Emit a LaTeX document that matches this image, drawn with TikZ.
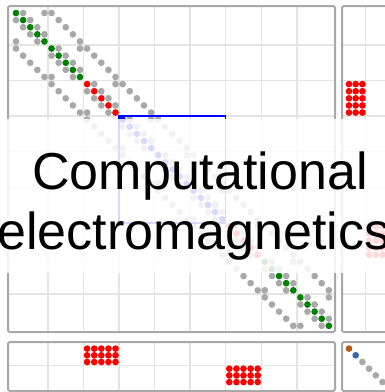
\documentclass[tikz,border=0pt]{standalone}
\usepackage{fontspec}
\setmainfont{Liberation Sans}
\definecolor{gridc}{RGB}{228,228,228}
\definecolor{framec}{RGB}{168,168,168}
\definecolor{dotgray}{RGB}{168,168,168}
\definecolor{dgreen}{RGB}{0,128,0}
\definecolor{brownc}{RGB}{176,92,20}
\definecolor{steelc}{RGB}{60,100,170}
\tikzset{
  gridline/.style={gridc,line width=1.4pt},
  frame/.style={framec,line width=2pt,rounded corners=1.5pt},
  band/.style={white,opacity=0.85},
  title/.style={font=\fontsize{52}{60}\selectfont,inner sep=0pt,anchor=base,text=black}
}
\begin{document}
\begin{tikzpicture}[x=1pt,y=-1pt]
\useasboundingbox (0,0) rectangle (384,392);
\def\dd{7.11}
\def\xo{16}
\def\yo{13}
\def\ee{6.7}
\def\ex{349}
\def\ey{348.6}
\def\rr{3.35pt}
% grid lines
\foreach \k in {1,...,8}{
  \pgfmathsetmacro\gx{\xo+(5*\k-0.5)*\dd}
  \pgfmathsetmacro\gy{\yo+(5*\k-0.5)*\dd}
  \draw[gridline] (\gx,6) -- (\gx,332);
  \draw[gridline] (\gx,342) -- (\gx,391);
  \draw[gridline] (8,\gy) -- (335,\gy);
  \draw[gridline] (342,\gy) -- (392,\gy);
}
\pgfmathsetmacro\eg{\ex+2.5*\ee}
\draw[gridline] (\eg,6) -- (\eg,332);
\draw[gridline] (8,\eg) -- (335,\eg);
% frames
\draw[frame] (8,6) rectangle (335,332);
\draw[frame] (342,6) rectangle (394,332);
\draw[frame] (8,342) rectangle (335,391);
\draw[frame] (342,342) rectangle (394,391);
% main matrix
\foreach \i in {0,...,44}{
  \pgfmathtruncatemacro\b{5*floor(\i/5)}
  \pgfmathtruncatemacro\r{\i-\b}
  \pgfmathtruncatemacro\ja{\b+mod(\r+1,5)}
  \pgfmathtruncatemacro\jb{\b+mod(\r+4,5)}
  \pgfmathtruncatemacro\jc{\i-5}
  \pgfmathtruncatemacro\jd{\i+5}
  \pgfmathsetmacro\yy{\yo+\i*\dd}
  \foreach \j in {\ja,\jb,\jc,\jd}{
    \ifnum\j>-1\relax\ifnum\j<45\relax
      \fill[dotgray] ({\xo+\j*\dd},\yy) circle[radius=\rr];
    \fi\fi
  }
  \ifnum\i<10\relax\def\dc{dgreen}\else
  \ifnum\i<15\relax\def\dc{red}\else
  \ifnum\i<30\relax\def\dc{blue}\else
  \ifnum\i<35\relax\def\dc{red}\else\def\dc{dgreen}\fi\fi\fi\fi
  \fill[\dc] ({\xo+\i*\dd},\yy) circle[radius=\rr];
}
% coupling blocks
\foreach \i in {10,...,14}{\foreach \e in {0,1,2}{
  \fill[red] ({\ex+\e*\ee},{\yo+\i*\dd}) circle[radius=\rr];
  \fill[red] ({\xo+\i*\dd},{\ey+\e*\ee}) circle[radius=\rr];
}}
\foreach \i in {30,...,34}{\foreach \e in {3,4,5}{
  \fill[red] ({\ex+\e*\ee},{\yo+\i*\dd}) circle[radius=\rr];
  \fill[red] ({\xo+\i*\dd},{\ey+\e*\ee}) circle[radius=\rr];
}}
% extra diagonal
\fill[brownc] (\ex,\ey) circle[radius=\rr];
\fill[steelc] ({\ex+\ee},{\ey+\ee}) circle[radius=\rr];
\foreach \e in {2,...,5}{
  \fill[dotgray] ({\ex+\e*\ee},{\ey+\e*\ee}) circle[radius=\rr];
}
% blue selection
\draw[blue,line width=1.5pt] ({\xo+14.5*\dd},{\yo+14.5*\dd}) rectangle ({\xo+29.5*\dd},{\yo+29.5*\dd});
% white band and title
\fill[band] (-1,119) rectangle (385,273);
\node[title] (t1) at (200,189) {Computational};
\node[title] (t2) at (194,249) {electromagnetics};
\end{tikzpicture}
\end{document}
